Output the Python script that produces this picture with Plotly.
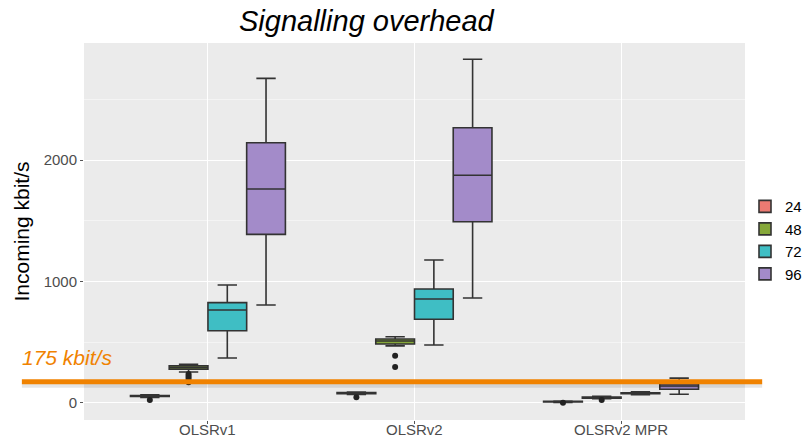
import plotly.graph_objects as go

# ---- data ----
categories = ["OLSRv1", "OLSRv2", "OLSRv2 MPR"]
groups = ["24", "48", "72", "96"]

lower_24 = [45, 70, 5]
q1_24 = [54, 77, 8]
med_24 = [58, 81, 11]
q3_24 = [62, 85, 14]
upper_24 = [68, 90, 17]
out_24 = [[25], [48], [2]]

lower_48 = [255, 470, 35]
q1_48 = [278, 486, 40]
med_48 = [292, 510, 44]
q3_48 = [306, 527, 48]
upper_48 = [318, 545, 55]
out_48 = [[238, 222, 205, 188, 170], [389, 296], [25]]

lower_72 = [370, 477, 68]
q1_72 = [595, 689, 76]
med_72 = [765, 856, 80]
q3_72 = [826, 938, 84]
upper_72 = [971, 1177, 92]
out_72 = [[], [], []]

lower_96 = [806, 864, 72]
q1_96 = [1388, 1492, 113]
med_96 = [1761, 1874, 140]
q3_96 = [2142, 2266, 156]
upper_96 = [2672, 2829, 205]
out_96 = [[], [], []]

threshold = 175
threshold_label = "175 kbit/s"
y_ticks = [0, 1000, 2000]

stats = {
    "24": (lower_24, q1_24, med_24, q3_24, upper_24, out_24),
    "48": (lower_48, q1_48, med_48, q3_48, upper_48, out_48),
    "72": (lower_72, q1_72, med_72, q3_72, upper_72, out_72),
    "96": (lower_96, q1_96, med_96, q3_96, upper_96, out_96),
}
colors = {"24": "#EC7A72", "48": "#86A83A", "72": "#3FBEC4", "96": "#A38BC9"}

# ---- layout constants ----
dodge = 0.75
bw = dodge / len(groups)
y_range = [-140, 2963]
panel_h = 377.0
bottom_margin = 19

fig = go.Figure()
for j, g in enumerate(groups):
    lo, q1, md, q3, up, outs = stats[g]
    xs = [i + (j - (len(groups) - 1) / 2) * bw for i in range(len(categories))]
    fig.add_trace(go.Box(
        x=xs, q1=q1, median=md, q3=q3, lowerfence=lo, upperfence=up,
        width=bw, name=g, fillcolor=colors[g],
        line=dict(color="#333333", width=1.6),
        boxpoints=False, legendgroup=g, showlegend=True,
    ))
    ox, oy = [], []
    for i, vals in enumerate(outs):
        for v in vals:
            ox.append(xs[i])
            oy.append(v)
    if ox:
        fig.add_trace(go.Scatter(
            x=ox, y=oy, mode="markers", legendgroup=g, showlegend=False,
            marker=dict(color="#222222", size=6), hoverinfo="skip",
        ))

def ypaper(v):
    return (v - y_range[0]) / (y_range[1] - y_range[0])

fig.add_shape(type="line", xref="paper", yref="paper",
              x0=-0.094, x1=1.026,
              y0=ypaper(threshold) - 4.0 / panel_h, y1=ypaper(threshold) - 4.0 / panel_h,
              line=dict(color="rgba(0,0,0,0.10)", width=4))
fig.add_shape(type="line", xref="paper", yref="paper",
              x0=-0.094, x1=1.026, y0=ypaper(threshold), y1=ypaper(threshold),
              line=dict(color="#F08200", width=5))

fig.add_annotation(text=threshold_label, xref="paper", yref="paper",
                   x=-0.097, y=0.1645, xanchor="left", yanchor="middle",
                   showarrow=False,
                   font=dict(family="Liberation Sans", size=21, color="#F08200", style="italic"))
fig.add_annotation(text="Signalling overhead", xref="paper", yref="paper",
                   x=0.428, y=1.058, xanchor="center", yanchor="middle",
                   showarrow=False,
                   font=dict(family="Liberation Sans", size=29, color="#000000", style="italic"))

# category labels (drawn as annotations so they sit close under the panel)
for i, c in enumerate(categories):
    fig.add_annotation(text=c, xref="x", yref="paper", x=i,
                       y=-(bottom_margin - 0.5) / panel_h, xanchor="center", yanchor="bottom",
                       showarrow=False, borderpad=0,
                       font=dict(family="Liberation Sans", size=15, color="#4D4D4D"))

fig.update_layout(
    width=807, height=439,
    margin=dict(l=84, r=62, t=43, b=bottom_margin, autoexpand=False),
    paper_bgcolor="white", plot_bgcolor="#EBEBEB",
    font=dict(family="Liberation Sans", color="#4D4D4D", size=15),
    boxmode="overlay",
    showlegend=True,
    legend=dict(x=1.0, y=0.477, xanchor="left", yanchor="middle",
                font=dict(size=15, color="#000000"), bgcolor="rgba(0,0,0,0)",
                tracegroupgap=0, itemwidth=30),
    xaxis=dict(range=[-0.6, 2.6], tickvals=list(range(len(categories))),
               showticklabels=False, showgrid=True, gridcolor="white", gridwidth=1.2,
               zeroline=False, ticks="outside", ticklen=3, tickcolor="#555555",
               showline=False),
    yaxis=dict(range=y_range, tickvals=y_ticks, showgrid=True, gridcolor="white",
               gridwidth=1.2, zeroline=False, ticks="outside", ticklen=3,
               tickcolor="#555555", tickfont=dict(size=15, color="#4D4D4D"),
               minor=dict(dtick=500, tick0=500, showgrid=True, gridcolor="#F4F4F4",
                          gridwidth=0.8, ticks=""),
               title=dict(text="Incoming kbit/s", standoff=8,
                          font=dict(size=21, color="#000000"))),
)

fig.write_html("out.html", config={"displayModeBar": False},
               post_script="document.body.style.margin='0';document.body.style.padding='0';")
